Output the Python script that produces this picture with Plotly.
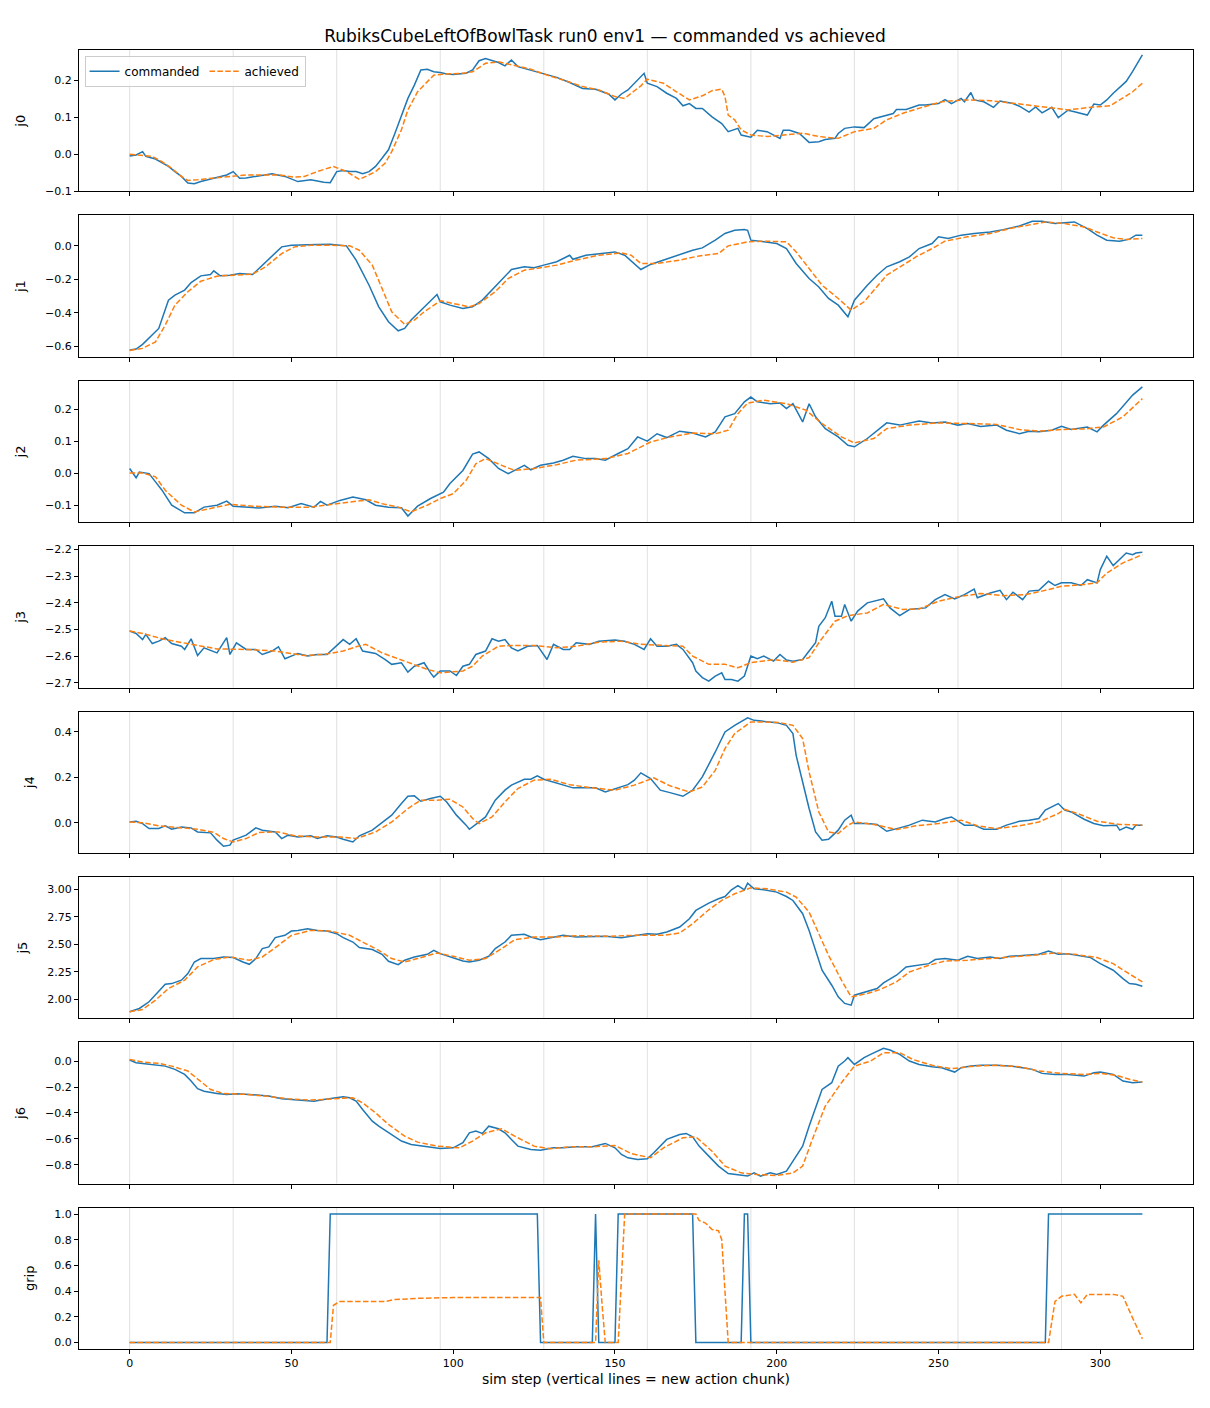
import plotly.graph_objects as go
from plotly.subplots import make_subplots

# chunk boundaries (every 32 sim steps)
chunk_starts = [0, 32, 64, 96, 128, 160, 192, 224, 256, 288]
x_ticks = [0, 50, 100, 150, 200, 250, 300]
joint_names = ["j0", "j1", "j2", "j3", "j4", "j5", "j6", "grip"]

# (sim step, value)
j0_commanded = [(0, -0.005), (2, -0.002), (4, 0.007), (5, -0.006), (8, -0.013), (10, -0.024), (12, -0.033), (14, -0.047),
                (16, -0.06), (18, -0.078), (20, -0.08), (22, -0.074), (24, -0.069), (26, -0.065), (28, -0.06), (30, -0.056),
                (32, -0.047), (34, -0.065), (36, -0.064), (40, -0.059), (44, -0.053), (48, -0.06), (52, -0.074), (56, -0.069),
                (60, -0.076), (62, -0.077), (64, -0.047), (66, -0.044), (68, -0.047), (70, -0.047), (72, -0.053), (74, -0.047),
                (76, -0.033), (78, -0.011), (80, 0.012), (82, 0.057), (84, 0.102), (86, 0.151), (88, 0.187), (90, 0.228),
                (92, 0.23), (94, 0.223), (96, 0.221), (98, 0.217), (100, 0.216), (102, 0.217), (104, 0.219), (106, 0.228),
                (108, 0.253), (110, 0.259), (112, 0.253), (114, 0.248), (116, 0.239), (118, 0.255), (120, 0.237), (124, 0.228),
                (128, 0.217), (132, 0.208), (136, 0.194), (140, 0.178), (144, 0.176), (148, 0.163), (150, 0.147), (152, 0.163),
                (154, 0.174), (156, 0.192), (158, 0.21), (159, 0.219), (160, 0.192), (163, 0.183), (166, 0.165), (169, 0.151),
                (171, 0.131), (173, 0.137), (175, 0.124), (177, 0.124), (180, 0.101), (183, 0.083), (185, 0.061), (188, 0.07),
                (189, 0.052), (192, 0.046), (194, 0.065), (197, 0.061), (201, 0.043), (202, 0.065), (204, 0.065), (207, 0.056),
                (210, 0.032), (213, 0.034), (215, 0.04), (218, 0.043), (219, 0.056), (221, 0.07), (224, 0.074), (227, 0.072),
                (230, 0.096), (232, 0.101), (236, 0.11), (237, 0.121), (240, 0.121), (244, 0.133), (246, 0.133), (250, 0.137),
                (252, 0.148), (254, 0.137), (257, 0.151), (258, 0.142), (260, 0.167), (261, 0.147), (264, 0.142), (267, 0.127),
                (269, 0.144), (273, 0.137), (275, 0.13), (278, 0.114), (280, 0.128), (282, 0.112), (285, 0.127), (287, 0.099),
                (290, 0.119), (292, 0.115), (296, 0.106), (298, 0.136), (300, 0.133), (302, 0.147), (304, 0.165), (308, 0.197),
                (310, 0.224), (313, 0.269)]
j0_achieved = [(0, 0.0), (3, -0.002), (7, -0.006), (10, -0.02), (13, -0.038), (16, -0.06), (18, -0.071), (21, -0.069),
               (25, -0.065), (31, -0.059), (36, -0.056), (41, -0.056), (46, -0.056), (51, -0.062), (54, -0.06), (58, -0.047),
               (63, -0.033), (67, -0.047), (71, -0.068), (73, -0.06), (76, -0.047), (79, -0.024), (81, 0.007), (84, 0.066),
               (86, 0.12), (89, 0.169), (92, 0.196), (94, 0.214), (98, 0.217), (103, 0.219), (106, 0.223), (110, 0.246),
               (114, 0.25), (119, 0.241), (124, 0.23), (129, 0.214), (134, 0.201), (140, 0.183), (145, 0.174), (150, 0.156),
               (153, 0.151), (155, 0.165), (158, 0.185), (160, 0.203), (165, 0.192), (169, 0.169), (173, 0.147), (177, 0.158),
               (180, 0.172), (183, 0.176), (184, 0.156), (185, 0.106), (187, 0.093), (189, 0.066), (192, 0.052), (197, 0.048),
               (202, 0.052), (208, 0.057), (213, 0.048), (219, 0.043), (224, 0.061), (230, 0.07), (234, 0.093), (239, 0.111),
               (245, 0.127), (251, 0.142), (258, 0.147), (266, 0.145), (273, 0.138), (279, 0.131), (285, 0.124), (290, 0.12),
               (297, 0.127), (303, 0.131), (306, 0.147), (310, 0.169), (313, 0.192)]

j1_commanded = [(0, -0.622), (2, -0.616), (4, -0.588), (9, -0.493), (12, -0.324), (14, -0.294), (17, -0.264), (19, -0.219),
                (22, -0.179), (25, -0.171), (26, -0.149), (28, -0.179), (31, -0.175), (34, -0.165), (38, -0.171), (41, -0.115),
                (44, -0.06), (47, -0.006), (50, 0.004), (54, 0.008), (58, 0.008), (62, 0.01), (67, 0.0), (70, -0.085),
                (74, -0.235), (77, -0.364), (80, -0.453), (83, -0.507), (85, -0.493), (87, -0.443), (90, -0.384), (93, -0.324),
                (95, -0.29), (96, -0.334), (99, -0.354), (103, -0.374), (106, -0.364), (109, -0.324), (114, -0.225), (118, -0.141),
                (122, -0.125), (125, -0.131), (128, -0.115), (132, -0.095), (136, -0.056), (137, -0.08), (141, -0.056),
                (145, -0.046), (150, -0.036), (153, -0.056), (156, -0.105), (158, -0.141), (161, -0.111), (165, -0.085),
                (170, -0.056), (174, -0.026), (177, -0.012), (181, 0.034), (184, 0.074), (187, 0.093), (190, 0.097),
                (191, 0.093), (192, 0.034), (196, 0.024), (200, 0.014), (203, -0.016), (206, -0.105), (210, -0.195),
                (213, -0.245), (216, -0.314), (219, -0.354), (222, -0.423), (224, -0.324), (228, -0.235), (231, -0.175),
                (234, -0.125), (238, -0.095), (241, -0.066), (244, -0.016), (248, 0.014), (250, 0.054), (253, 0.044),
                (257, 0.064), (261, 0.074), (266, 0.083), (270, 0.097), (275, 0.119), (279, 0.147), (282, 0.147), (286, 0.133),
                (289, 0.139), (292, 0.143), (296, 0.103), (299, 0.064), (302, 0.034), (306, 0.028), (309, 0.04), (311, 0.064),
                (313, 0.064)]
j1_achieved = [(0, -0.624), (4, -0.612), (8, -0.573), (11, -0.473), (14, -0.354), (18, -0.274), (22, -0.211), (27, -0.181),
               (32, -0.175), (38, -0.169), (42, -0.125), (47, -0.046), (51, -0.006), (56, 0.004), (62, 0.004), (68, 0.0),
               (71, -0.026), (75, -0.115), (78, -0.254), (81, -0.394), (85, -0.469), (88, -0.443), (91, -0.394), (96, -0.328),
               (100, -0.344), (105, -0.364), (108, -0.344), (113, -0.274), (117, -0.195), (122, -0.145), (127, -0.131),
               (132, -0.115), (138, -0.085), (145, -0.056), (152, -0.042), (155, -0.056), (158, -0.105), (163, -0.105),
               (170, -0.085), (176, -0.06), (182, -0.046), (185, 0.0), (191, 0.024), (196, 0.028), (203, 0.024), (206, -0.036),
               (210, -0.135), (214, -0.235), (219, -0.314), (223, -0.384), (227, -0.334), (230, -0.264), (234, -0.175),
               (239, -0.115), (243, -0.066), (248, -0.016), (252, 0.028), (259, 0.054), (266, 0.074), (272, 0.103),
               (279, 0.127), (283, 0.143), (289, 0.133), (295, 0.113), (299, 0.083), (304, 0.048), (308, 0.038), (313, 0.044)]

j2_commanded = [(0, 0.015), (2, -0.014), (3, 0.004), (6, -0.001), (8, -0.027), (10, -0.053), (13, -0.1), (17, -0.124),
                (20, -0.124), (23, -0.106), (27, -0.1), (30, -0.087), (32, -0.103), (37, -0.106), (40, -0.109), (45, -0.103),
                (49, -0.108), (53, -0.095), (57, -0.106), (59, -0.088), (61, -0.1), (65, -0.085), (69, -0.074), (73, -0.083),
                (76, -0.1), (80, -0.106), (84, -0.108), (86, -0.134), (89, -0.103), (93, -0.079), (95, -0.069), (97, -0.059),
                (99, -0.032), (103, 0.009), (106, 0.06), (108, 0.067), (111, 0.046), (114, 0.015), (117, -0.001), (119, 0.009),
                (122, 0.025), (124, 0.011), (127, 0.025), (131, 0.032), (134, 0.041), (137, 0.053), (141, 0.046), (144, 0.046),
                (147, 0.041), (151, 0.062), (154, 0.077), (157, 0.114), (160, 0.101), (163, 0.124), (166, 0.112), (170, 0.132),
                (174, 0.126), (178, 0.114), (181, 0.13), (184, 0.177), (187, 0.187), (190, 0.224), (192, 0.239), (194, 0.224),
                (198, 0.218), (201, 0.22), (203, 0.203), (205, 0.218), (208, 0.161), (210, 0.218), (212, 0.177), (215, 0.14),
                (219, 0.114), (222, 0.088), (224, 0.083), (228, 0.109), (231, 0.135), (234, 0.158), (238, 0.151), (241, 0.158),
                (244, 0.164), (248, 0.158), (252, 0.161), (256, 0.151), (259, 0.156), (263, 0.147), (268, 0.151), (271, 0.135),
                (275, 0.124), (278, 0.132), (281, 0.13), (285, 0.135), (288, 0.147), (291, 0.137), (296, 0.145), (299, 0.13),
                (301, 0.151), (305, 0.187), (308, 0.22), (310, 0.245), (313, 0.271)]
j2_achieved = [(0, 0.001), (4, 0.001), (8, -0.011), (11, -0.053), (16, -0.1), (20, -0.121), (26, -0.108), (31, -0.097),
               (38, -0.103), (47, -0.106), (56, -0.106), (62, -0.097), (68, -0.09), (74, -0.083), (78, -0.095), (83, -0.106),
               (87, -0.121), (92, -0.1), (96, -0.079), (100, -0.064), (104, -0.022), (107, 0.03), (110, 0.046), (115, 0.025),
               (119, 0.009), (125, 0.015), (132, 0.027), (138, 0.041), (147, 0.046), (154, 0.062), (161, 0.098), (167, 0.114),
               (174, 0.126), (181, 0.124), (185, 0.135), (188, 0.187), (191, 0.22), (196, 0.229), (203, 0.218), (209, 0.198),
               (214, 0.156), (220, 0.114), (224, 0.095), (230, 0.109), (234, 0.14), (241, 0.151), (250, 0.158), (259, 0.156),
               (268, 0.153), (275, 0.137), (281, 0.132), (288, 0.137), (295, 0.139), (301, 0.145), (307, 0.177), (313, 0.234)]

j3_commanded = [(0, -2.506), (2, -2.515), (4, -2.538), (5, -2.518), (7, -2.553), (9, -2.544), (11, -2.531), (13, -2.553),
                (16, -2.563), (17, -2.575), (19, -2.535), (21, -2.598), (23, -2.569), (27, -2.588), (30, -2.531), (31, -2.594),
                (33, -2.55), (36, -2.575), (39, -2.575), (41, -2.594), (44, -2.581), (46, -2.565), (48, -2.61), (50, -2.6),
                (52, -2.59), (55, -2.6), (58, -2.594), (61, -2.594), (64, -2.56), (66, -2.538), (68, -2.556), (70, -2.535),
                (72, -2.581), (76, -2.59), (79, -2.613), (81, -2.631), (84, -2.625), (86, -2.66), (88, -2.638), (91, -2.625),
                (93, -2.663), (94, -2.679), (96, -2.656), (99, -2.656), (101, -2.673), (103, -2.638), (105, -2.631),
                (107, -2.594), (110, -2.581), (112, -2.535), (114, -2.544), (116, -2.538), (118, -2.569), (120, -2.581),
                (123, -2.563), (126, -2.56), (129, -2.613), (131, -2.556), (134, -2.575), (136, -2.575), (138, -2.55),
                (142, -2.556), (145, -2.544), (150, -2.54), (153, -2.544), (156, -2.556), (159, -2.575), (161, -2.535),
                (163, -2.563), (166, -2.563), (169, -2.556), (171, -2.575), (174, -2.625), (175, -2.656), (177, -2.681),
                (179, -2.694), (181, -2.675), (183, -2.663), (184, -2.688), (186, -2.688), (188, -2.694), (190, -2.675),
                (192, -2.6), (194, -2.61), (196, -2.6), (199, -2.619), (201, -2.594), (203, -2.615), (205, -2.619),
                (208, -2.613), (210, -2.581), (212, -2.55), (213, -2.488), (215, -2.456), (217, -2.394), (218, -2.45),
                (220, -2.45), (221, -2.406), (223, -2.469), (225, -2.431), (228, -2.4), (230, -2.394), (233, -2.385),
                (235, -2.419), (238, -2.448), (241, -2.425), (246, -2.419), (249, -2.388), (252, -2.369), (255, -2.385),
                (258, -2.369), (261, -2.348), (262, -2.381), (266, -2.363), (269, -2.353), (271, -2.388), (273, -2.36),
                (276, -2.388), (278, -2.356), (281, -2.353), (284, -2.319), (286, -2.335), (288, -2.325), (291, -2.325),
                (294, -2.335), (296, -2.313), (299, -2.325), (300, -2.275), (302, -2.225), (304, -2.26), (306, -2.238),
                (308, -2.213), (310, -2.219), (311, -2.213), (313, -2.21)]
j3_achieved = [(0, -2.506), (4, -2.515), (11, -2.538), (18, -2.553), (27, -2.573), (36, -2.575), (45, -2.581), (54, -2.598),
               (60, -2.594), (66, -2.581), (70, -2.565), (73, -2.556), (78, -2.588), (85, -2.619), (92, -2.65), (96, -2.663),
               (103, -2.656), (106, -2.638), (109, -2.6), (114, -2.563), (118, -2.56), (125, -2.56), (132, -2.569),
               (138, -2.563), (145, -2.548), (152, -2.544), (158, -2.556), (165, -2.56), (171, -2.563), (174, -2.6),
               (179, -2.631), (184, -2.631), (188, -2.644), (192, -2.625), (199, -2.613), (205, -2.623), (210, -2.606),
               (213, -2.55), (218, -2.469), (222, -2.448), (228, -2.438), (233, -2.406), (239, -2.425), (244, -2.423),
               (250, -2.394), (257, -2.375), (263, -2.365), (270, -2.373), (277, -2.369), (282, -2.356), (288, -2.338),
               (295, -2.331), (299, -2.325), (302, -2.288), (307, -2.25), (313, -2.219)]

j4_commanded = [(0, 0.004), (2, 0.007), (4, -0.003), (6, -0.025), (9, -0.025), (11, -0.013), (13, -0.028), (16, -0.018),
                (19, -0.022), (21, -0.04), (25, -0.044), (27, -0.076), (29, -0.103), (31, -0.098), (32, -0.076), (36, -0.054),
                (39, -0.022), (41, -0.032), (45, -0.04), (47, -0.069), (49, -0.054), (52, -0.062), (56, -0.057), (58, -0.069),
                (61, -0.057), (64, -0.062), (66, -0.072), (69, -0.084), (71, -0.057), (75, -0.032), (79, 0.012), (81, 0.034),
                (84, 0.085), (86, 0.117), (88, 0.119), (90, 0.095), (93, 0.107), (96, 0.117), (98, 0.092), (101, 0.034),
                (104, -0.01), (105, -0.028), (107, -0.007), (110, 0.026), (113, 0.1), (116, 0.144), (118, 0.166), (122, 0.192),
                (124, 0.192), (126, 0.207), (128, 0.192), (131, 0.18), (134, 0.166), (137, 0.154), (141, 0.154), (144, 0.154),
                (147, 0.136), (151, 0.154), (154, 0.168), (156, 0.188), (158, 0.22), (161, 0.195), (164, 0.144), (167, 0.133),
                (171, 0.117), (174, 0.144), (177, 0.202), (181, 0.312), (184, 0.4), (187, 0.429), (191, 0.462), (193, 0.451),
                (196, 0.447), (200, 0.441), (203, 0.429), (205, 0.393), (206, 0.297), (208, 0.18), (210, 0.063), (212, -0.04),
                (214, -0.076), (216, -0.072), (219, -0.032), (221, 0.012), (223, 0.034), (224, -0.003), (228, -0.003),
                (231, -0.007), (234, -0.037), (238, -0.022), (241, -0.01), (245, 0.012), (249, 0.004), (252, 0.019),
                (254, 0.026), (258, -0.01), (261, -0.01), (264, -0.028), (268, -0.028), (271, -0.01), (275, 0.007),
                (278, 0.012), (281, 0.019), (283, 0.056), (287, 0.085), (289, 0.056), (291, 0.048), (295, 0.016),
                (298, -0.003), (301, -0.013), (305, -0.01), (306, -0.032), (308, -0.018), (310, -0.028), (311, -0.01),
                (313, -0.01)]
j4_achieved = [(0, 0.004), (4, 0.001), (9, -0.013), (16, -0.022), (21, -0.028), (26, -0.042), (29, -0.069), (32, -0.084),
               (36, -0.069), (40, -0.042), (46, -0.04), (51, -0.057), (58, -0.062), (65, -0.062), (70, -0.069), (76, -0.04),
               (81, 0.004), (86, 0.063), (90, 0.1), (95, 0.1), (99, 0.104), (103, 0.07), (106, 0.019), (108, -0.003),
               (112, 0.026), (116, 0.092), (120, 0.151), (125, 0.188), (130, 0.192), (136, 0.168), (143, 0.154), (150, 0.144),
               (156, 0.166), (162, 0.198), (167, 0.163), (173, 0.136), (177, 0.158), (181, 0.231), (184, 0.327), (187, 0.393),
               (192, 0.444), (196, 0.444), (201, 0.441), (205, 0.429), (208, 0.371), (210, 0.224), (213, 0.048), (216, -0.04),
               (219, -0.047), (222, -0.01), (224, 0.004), (230, -0.007), (237, -0.029), (243, -0.013), (250, -0.003),
               (257, 0.012), (262, -0.013), (268, -0.025), (275, -0.013), (281, 0.004), (287, 0.041), (289, 0.06),
               (293, 0.041), (299, 0.007), (306, -0.007), (313, -0.01)]

j5_commanded = [(0, 1.885), (3, 1.915), (6, 1.976), (9, 2.067), (11, 2.136), (13, 2.142), (16, 2.173), (18, 2.233),
                (20, 2.339), (22, 2.37), (26, 2.37), (29, 2.385), (32, 2.379), (35, 2.339), (37, 2.318), (39, 2.37),
                (41, 2.461), (43, 2.476), (45, 2.561), (48, 2.582), (50, 2.621), (52, 2.627), (55, 2.642), (58, 2.627),
                (61, 2.621), (64, 2.597), (66, 2.561), (69, 2.521), (71, 2.47), (75, 2.452), (78, 2.409), (80, 2.345),
                (83, 2.315), (85, 2.355), (88, 2.385), (92, 2.409), (94, 2.445), (96, 2.415), (99, 2.385), (103, 2.348),
                (105, 2.339), (108, 2.355), (111, 2.391), (113, 2.461), (116, 2.521), (118, 2.582), (122, 2.591), (124, 2.567),
                (127, 2.542), (131, 2.567), (134, 2.582), (138, 2.567), (143, 2.573), (147, 2.573), (152, 2.561), (155, 2.573),
                (160, 2.597), (163, 2.591), (166, 2.612), (170, 2.658), (173, 2.733), (175, 2.809), (179, 2.876), (182, 2.915),
                (184, 2.936), (186, 2.997), (188, 3.036), (190, 2.997), (191, 3.058), (193, 3.006), (196, 2.997), (200, 2.976),
                (203, 2.936), (205, 2.9), (208, 2.779), (210, 2.627), (212, 2.445), (214, 2.264), (217, 2.127), (219, 2.021),
                (221, 1.961), (223, 1.945), (224, 2.036), (228, 2.067), (231, 2.097), (233, 2.148), (237, 2.218), (240, 2.294),
                (243, 2.309), (247, 2.324), (249, 2.361), (252, 2.37), (256, 2.355), (259, 2.391), (262, 2.37), (266, 2.385),
                (269, 2.37), (272, 2.391), (277, 2.4), (281, 2.409), (284, 2.439), (287, 2.409), (290, 2.415), (294, 2.391),
                (297, 2.379), (300, 2.324), (304, 2.264), (307, 2.188), (309, 2.142), (311, 2.136), (313, 2.118)]
j5_achieved = [(0, 1.885), (4, 1.906), (8, 1.991), (12, 2.097), (17, 2.173), (21, 2.294), (26, 2.361), (31, 2.385),
               (37, 2.355), (41, 2.385), (46, 2.491), (50, 2.582), (56, 2.627), (62, 2.621), (68, 2.582), (72, 2.521),
               (77, 2.445), (81, 2.37), (85, 2.339), (89, 2.37), (95, 2.421), (100, 2.391), (105, 2.355), (110, 2.37),
               (115, 2.461), (119, 2.542), (125, 2.567), (132, 2.567), (138, 2.579), (147, 2.573), (156, 2.582), (165, 2.582),
               (170, 2.603), (174, 2.688), (179, 2.815), (183, 2.9), (187, 2.961), (192, 3.015), (197, 3.006), (203, 2.976),
               (206, 2.93), (210, 2.794), (213, 2.597), (216, 2.4), (220, 2.173), (223, 2.021), (228, 2.052), (232, 2.088),
               (237, 2.158), (241, 2.248), (247, 2.309), (252, 2.348), (259, 2.355), (266, 2.37), (272, 2.379), (279, 2.4),
               (286, 2.421), (292, 2.409), (299, 2.379), (304, 2.324), (308, 2.248), (313, 2.158)]

j6_commanded = [(0, 0.008), (2, -0.013), (4, -0.018), (8, -0.033), (11, -0.039), (14, -0.064), (17, -0.103), (19, -0.154),
                (21, -0.213), (23, -0.232), (27, -0.25), (30, -0.257), (33, -0.252), (37, -0.257), (40, -0.265), (43, -0.27),
                (47, -0.291), (50, -0.296), (54, -0.301), (57, -0.309), (60, -0.296), (64, -0.283), (66, -0.275), (68, -0.283),
                (70, -0.309), (72, -0.373), (75, -0.463), (77, -0.502), (80, -0.553), (84, -0.617), (87, -0.643), (91, -0.656),
                (96, -0.674), (100, -0.669), (103, -0.63), (105, -0.553), (107, -0.54), (109, -0.558), (111, -0.502),
                (114, -0.522), (116, -0.553), (118, -0.604), (120, -0.656), (124, -0.682), (127, -0.687), (131, -0.669),
                (134, -0.669), (138, -0.661), (143, -0.661), (147, -0.635), (150, -0.669), (152, -0.72), (154, -0.746),
                (157, -0.759), (160, -0.754), (162, -0.707), (164, -0.656), (166, -0.604), (170, -0.566), (172, -0.558),
                (174, -0.584), (176, -0.656), (179, -0.733), (182, -0.81), (185, -0.867), (189, -0.882), (191, -0.887),
                (193, -0.862), (195, -0.887), (198, -0.862), (200, -0.875), (203, -0.849), (205, -0.772), (208, -0.656),
                (210, -0.502), (212, -0.36), (214, -0.219), (217, -0.167), (219, -0.039), (221, 0.0), (222, 0.026),
                (224, -0.026), (227, 0.026), (229, 0.051), (231, 0.077), (233, 0.098), (235, 0.085), (238, 0.051), (241, 0.0),
                (244, -0.026), (248, -0.044), (251, -0.051), (255, -0.085), (257, -0.051), (260, -0.039), (263, -0.033),
                (268, -0.033), (272, -0.039), (276, -0.051), (279, -0.064), (282, -0.095), (286, -0.103), (290, -0.103),
                (295, -0.116), (298, -0.09), (300, -0.085), (304, -0.103), (307, -0.154), (310, -0.167), (313, -0.162)]
j6_achieved = [(0, 0.013), (4, -0.008), (9, -0.018), (13, -0.039), (18, -0.077), (21, -0.141), (25, -0.219), (29, -0.25),
               (36, -0.257), (42, -0.27), (49, -0.291), (56, -0.301), (62, -0.291), (69, -0.283), (72, -0.322), (76, -0.399),
               (80, -0.489), (85, -0.579), (89, -0.625), (95, -0.656), (102, -0.669), (106, -0.617), (110, -0.553),
               (115, -0.522), (119, -0.579), (125, -0.656), (130, -0.677), (136, -0.661), (143, -0.661), (150, -0.651),
               (155, -0.713), (161, -0.746), (165, -0.669), (171, -0.592), (175, -0.584), (180, -0.695), (184, -0.81),
               (189, -0.862), (194, -0.875), (200, -0.882), (205, -0.862), (208, -0.81), (211, -0.604), (215, -0.347),
               (220, -0.167), (224, -0.039), (229, 0.0), (233, 0.064), (238, 0.064), (242, 0.013), (248, -0.033),
               (254, -0.059), (261, -0.039), (268, -0.033), (275, -0.044), (281, -0.077), (288, -0.095), (295, -0.103),
               (300, -0.095), (305, -0.111), (309, -0.141), (313, -0.162)]

grip_commanded = [(0, 0), (61, 0), (62, 1), (126, 1), (127, 0), (143, 0), (144, 1), (145, 0), (150, 0), (151, 1),
                  (174, 1), (175, 0), (189, 0), (190, 1), (191, 1), (192, 0), (283, 0), (284, 1), (313, 1)]
grip_achieved = [(0, 0), (62, 0), (63, 0.29), (65, 0.32), (79, 0.32), (82, 0.335), (90, 0.345), (100, 0.35), (127, 0.35),
                 (128, 0), (144, 0), (145, 0.64), (146, 0.3), (147, 0), (151, 0), (152, 0.5), (153, 1.0), (175, 1.0),
                 (176, 0.95), (178, 0.93), (180, 0.88), (182, 0.87), (183, 0.8), (185, 0), (284, 0), (285, 0.16),
                 (286, 0.32), (288, 0.36), (292, 0.375), (294, 0.31), (296, 0.375), (304, 0.375), (307, 0.36),
                 (310, 0.19), (313, 0.03)]

series = [
    (j0_commanded, j0_achieved), (j1_commanded, j1_achieved), (j2_commanded, j2_achieved),
    (j3_commanded, j3_achieved), (j4_commanded, j4_achieved), (j5_commanded, j5_achieved),
    (j6_commanded, j6_achieved), (grip_commanded, grip_achieved),
]

y_ranges = [[-0.1005, 0.282], [-0.662, 0.182], [-0.153, 0.29], [-2.718, -2.187],
            [-0.132, 0.49], [1.826, 3.115], [-0.945, 0.145], [-0.05, 1.05]]
y_ticks = [[-0.1, 0.0, 0.1, 0.2], [-0.6, -0.4, -0.2, 0.0], [-0.1, 0.0, 0.1, 0.2],
           [-2.7, -2.6, -2.5, -2.4, -2.3, -2.2], [0.0, 0.2, 0.4], [2.0, 2.25, 2.5, 2.75, 3.0],
           [-0.8, -0.6, -0.4, -0.2, 0.0], [0.0, 0.2, 0.4, 0.6, 0.8, 1.0]]

BLUE = "#1f77b4"
ORANGE = "#ff7f0e"

# page body adds an 8px offset, so the figure is a bit smaller than the window
W, H = 1202, 1400

fig = make_subplots(rows=8, cols=1, shared_xaxes=True, vertical_spacing=24 / 1299)

for i, (cmd, ach) in enumerate(series):
    row = i + 1
    fig.add_trace(
        go.Scatter(
            x=[p[0] for p in cmd], y=[p[1] for p in cmd],
            mode="lines", name="commanded",
            line=dict(color=BLUE, width=1.5),
            showlegend=(i == 0), legendgroup="cmd",
        ),
        row=row, col=1,
    )
    fig.add_trace(
        go.Scatter(
            x=[p[0] for p in ach], y=[p[1] for p in ach],
            mode="lines", name="achieved",
            line=dict(color=ORANGE, width=1.5, dash="5.5px,2.4px"),
            showlegend=(i == 0), legendgroup="ach",
        ),
        row=row, col=1,
    )
    for c in chunk_starts:
        fig.add_vline(x=c, line_color="#dcdcdc", line_width=0.9, layer="below", row=row, col=1)

    fig.update_yaxes(
        range=y_ranges[i], tickvals=y_ticks[i],
        tickformat=".2f" if joint_names[i] == "j5" else ".1f",
        title=dict(text=joint_names[i], standoff=16, font=dict(size=13)),
        row=row, col=1,
    )

axis_style = dict(
    showline=True, linecolor="black", linewidth=1, mirror=True,
    ticks="outside", ticklen=4, tickwidth=0.8, tickcolor="black",
    showgrid=False, zeroline=False, tickfont=dict(size=11),
)
fig.update_xaxes(range=[-15.65, 328.65], tickvals=x_ticks, **axis_style)
fig.update_yaxes(**axis_style)
fig.update_xaxes(title=dict(text="sim step (vertical lines = new action chunk)", font=dict(size=14), standoff=4),
                 row=8, col=1)

fig.update_layout(
    width=W, height=H,
    margin=dict(l=69, r=17, t=42, b=59),
    plot_bgcolor="white", paper_bgcolor="white",
    font=dict(family="DejaVu Sans", size=11, color="black"),
    title=dict(text="RubiksCubeLeftOfBowlTask run0 env1 — commanded vs achieved",
               x=(605 - 8) / W, xref="container", xanchor="center",
               y=1 - 28 / H, yref="container", yanchor="middle",
               font=dict(size=17)),
    legend=dict(
        orientation="h", x=0.005, y=0.9955, xanchor="left", yanchor="top",
        bordercolor="#cccccc", borderwidth=1, bgcolor="rgba(255,255,255,0.8)",
        font=dict(size=12), itemwidth=30,
    ),
)

fig.write_html("out.html")
